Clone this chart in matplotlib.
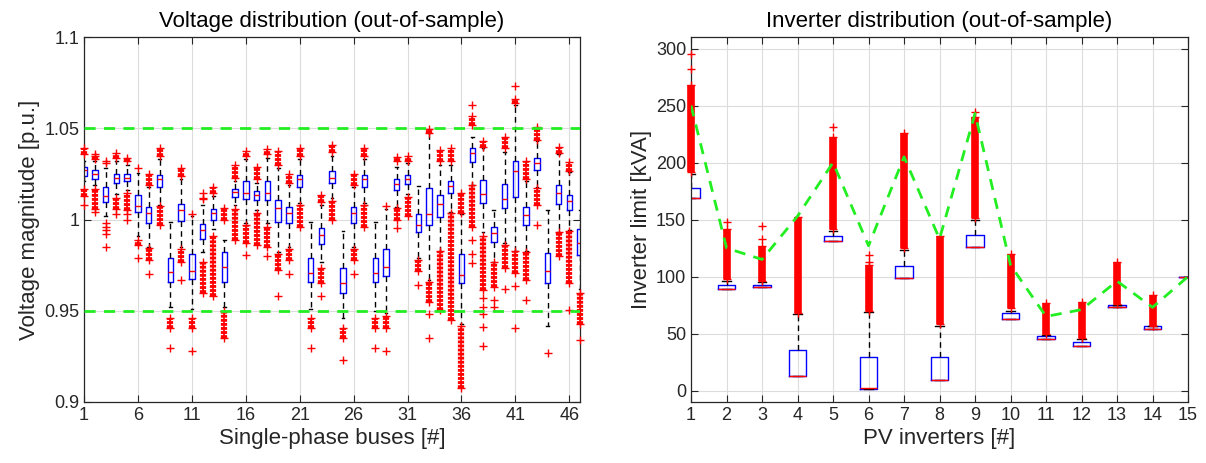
import matplotlib.pyplot as plt

plt.rcParams['font.family'] = ['Liberation Sans', 'DejaVu Sans']

# ---- left panel: voltage per single-phase bus (p.u.) ----
bus_ids = list(range(1, 48))
bus_q1 = [1.024, 1.0225, 1.0097, 1.020, 1.021, 1.0044, 0.998, 1.018, 0.966, 0.999,
          0.9674, 0.9894, 1.000, 0.9658, 1.0125, 1.011, 1.0106, 1.0106, 0.9985, 0.998,
          1.0178, 0.9658, 0.9864, 1.0198, 0.960, 0.998, 1.018, 0.9658, 0.9689, 1.016,
          1.0196, 0.9932, 0.9969, 1.0015, 1.0143, 0.9652, 1.0317, 1.009, 0.9877, 1.0064,
          1.0125, 0.9969, 1.0273, 0.9652, 1.0088, 1.0051, 0.9808]
bus_med = [1.027, 1.025, 1.0128, 1.023, 1.023, 1.0075, 1.0037, 1.022, 0.971, 1.005,
           0.972, 0.994, 1.0037, 0.9738, 1.015, 1.0148, 1.0134, 1.0147, 1.0064, 1.0037,
           1.022, 0.9707, 0.9918, 1.023, 0.965, 1.0037, 1.022, 0.9707, 0.974, 1.0196,
           1.0225, 0.9969, 1.003, 1.0088, 1.0183, 0.9698, 1.0366, 1.014, 0.9929, 1.0115,
           1.0266, 1.0024, 1.0308, 0.9716, 1.0147, 1.010, 0.987]
bus_q3 = [1.029, 1.027, 1.018, 1.025, 1.025, 1.0134, 1.007, 1.0245, 0.979, 1.0086,
          0.981, 0.9976, 1.0059, 0.982, 1.017, 1.0209, 1.0156, 1.021, 1.0106, 1.007,
          1.0245, 0.979, 0.9954, 1.0266, 0.9734, 1.007, 1.0245, 0.979, 0.9839, 1.0223,
          1.0245, 1.0031, 1.0174, 1.0134, 1.0214, 0.9813, 1.0394, 1.0216, 0.996, 1.0196,
          1.0322, 1.0068, 1.034, 0.9817, 1.0192, 1.0132, 0.9949]
bus_lo = [1.021, 1.019, 1.002, 1.014, 1.016, 0.991, 0.985, 1.008, 0.952, 0.985,
          0.951, 0.982, 0.995, 0.9518, 1.008, 0.998, 1.005, 0.998, 0.982, 0.985,
          1.009, 0.951, 0.977, 1.012, 0.946, 0.985, 1.009, 0.950, 0.9487, 1.007,
          1.014, 0.979, 0.967, 0.983, 1.004, 0.9425, 1.019, 0.993, 0.977, 0.987,
          0.983, 0.983, 1.018, 0.9414, 0.993, 0.994, 0.962]
bus_hi = [1.032, 1.032, 1.028, 1.032, 1.030, 1.0256, 1.018, 1.033, 0.9985, 1.022,
          1.002, 1.008, 1.013, 0.989, 1.021, 1.033, 1.020, 1.034, 1.028, 1.019,
          1.033, 0.9985, 1.008, 1.035, 0.9936, 1.018, 1.033, 0.9985, 1.006, 1.029,
          1.031, 1.0183, 1.0476, 1.030, 1.030, 1.003, 1.045, 1.039, 1.005, 1.037,
          1.063, 1.021, 1.043, 1.005, 1.036, 1.026, 1.005]
# single outliers
bus_fliers = [[1.008], [1.036, 1.004], [1.032, 1.031, 0.998, 0.996, 0.994, 0.992, 0.985],
              [1.003], [1.003, 1.0], [1.028, 0.979], [0.970], [], [0.9295], [0.967],
              [1.003, 0.928], [1.0147], [], [], [], [0.9808], [], [0.980], [0.958], [0.970],
              [], [0.9295], [0.958], [], [0.923], [0.970], [], [0.9295], [1.0073, 0.9277], [0.9954],
              [], [0.964], [0.948, 0.9353], [], [], [], [1.063, 0.989, 0.981, 0.976],
              [0.957, 0.952, 0.948, 0.941, 0.9308], [0.956, 0.9518], [0.962],
              [1.073, 0.9637, 0.9405], [0.956], [0.997], [0.9267], [], [0.9505], [0.934]]
# packed outlier clusters (low, high)
bus_clusters = [[(1.036, 1.039), (1.013, 1.017)], [(1.033, 1.035), (1.006, 1.017)], [],
                [(1.034, 1.0366), (1.006, 1.012)], [(1.032, 1.034), (1.0055, 1.0147)],
                [(0.986, 0.989)], [(1.019, 1.0247), (0.978, 0.9844)], [(1.035, 1.039), (0.997, 1.0077)],
                [(0.9405, 0.946)], [(1.024, 1.028), (0.977, 0.984)], [(0.9405, 0.946)],
                [(1.011, 1.012), (0.960, 0.977)], [(1.0147, 1.018), (0.958, 0.991)],
                [(1.0, 1.0064), (0.935, 0.9496)], [(1.023, 1.030), (0.989, 1.006)],
                [(1.035, 1.0375), (0.987, 0.997)], [(1.022, 1.029), (0.986, 1.0037)],
                [(1.0357, 1.0385), (0.985, 0.996)], [(1.03, 1.0375), (0.9725, 0.981)],
                [(1.02, 1.0247), (0.978, 0.984)], [(1.035, 1.039), (0.996, 1.008)],
                [(0.9405, 0.946)], [(1.0095, 1.0137), (0.965, 0.9734)], [(1.037, 1.041), (1.0, 1.01)],
                [(0.935, 0.9405)], [(1.0192, 1.0247), (0.978, 0.984)], [(1.035, 1.039), (0.996, 1.008)],
                [(0.9405, 0.946)], [(0.9405, 0.947)], [(1.032, 1.0344), (1.0, 1.0064)],
                [(1.032, 1.035), (1.002, 1.0125)], [(0.9716, 0.978)], [(1.0476, 1.0495), (0.955, 0.966)],
                [(1.032, 1.038), (0.9505, 0.9826)], [(1.032, 1.039), (0.945, 1.0037)],
                [(1.0037, 1.0147), (0.9075, 0.9414)], [(1.052, 1.057), (0.996, 1.019)],
                [(1.040, 1.043), (0.9615, 0.991)], [(0.963, 0.9766)], [(1.039, 1.045), (0.9734, 0.986)],
                [(1.064, 1.066), (0.9707, 0.9826)], [(1.022, 1.032), (0.967, 0.982)],
                [(1.0436, 1.051), (1.008, 1.0174)], [], [(1.0366, 1.040), (0.98, 0.993)],
                [(1.0266, 1.0315), (0.965, 0.9936)], [(0.943, 0.9597)]]
v_limits = [0.95, 1.05]

# ---- right panel: inverter limit per PV inverter (kVA) ----
inv_ids = list(range(1, 16))
inv_q1 = [168.5, 89, 90.6, 12.6, 131, 1.5, 98.5, 9.7, 125.9, 63.2, 45, 39.1, 73, 54.4, 100]
inv_med = [168.5, 89, 90.6, 12.6, 131, 2.5, 98.5, 9.7, 125.9, 63.2, 45, 39.1, 73, 54.4, 100]
inv_q3 = [178, 92.6, 93, 35.3, 136, 29.4, 109.7, 29.4, 136.8, 67.9, 47.9, 42.9, 75, 56.2, 100]
inv_lo = [168.5, 89, 90.6, 12.6, 131, 1.5, 98.5, 9.7, 125.9, 63.2, 45, 39.1, 73, 54.4, 100]
inv_hi = [190, 96, 95, 67, 140, 69, 123, 57, 150, 70, 49, 45, 75, 56.5, 100]
inv_fliers = [[282, 295], [148], [133, 144], [], [231], [113, 119], [], [], [244],
              [], [], [], [], [], []]
inv_clusters = [[(192, 268)], [(98, 142)], [(96, 127)], [(68, 152)], [(142, 222)],
                [(70, 110)], [(125, 226)], [(58, 136)], [(151, 240)], [(72, 120)],
                [(50, 77)], [(46, 78)], [(76, 113)], [(57, 84)], []]
inv_upper = [250, 125, 115, 153, 200, 127, 205, 133, 243, 110, 65, 71, 96, 73, 100]


def draw_boxes(ax, pos, q1, med, q3, lo, hi, fliers, clusters, cluster_lw, striped):
    stats = [dict(q1=a, med=m, q3=b, whislo=l, whishi=h, fliers=[])
             for a, m, b, l, h in zip(q1, med, q3, lo, hi)]
    ax.bxp(stats, positions=pos, widths=0.5, capwidths=0.25, patch_artist=False,
           boxprops=dict(color='blue', linewidth=1.0),
           medianprops=dict(color='red', linewidth=1.0),
           whiskerprops=dict(color='black', linewidth=1.0, linestyle=(0, (4, 3))),
           capprops=dict(color='black', linewidth=1.0))
    # outliers are not clipped at the axes edge (like MATLAB markers)
    for p, fl in zip(pos, fliers):
        if fl:
            ax.plot([p] * len(fl), fl, '+', color='red', markersize=6,
                    markeredgewidth=1.0, zorder=3, clip_on=False)
    for p, cl in zip(pos, clusters):
        for a, b in cl:
            if striped:
                ax.vlines(p, a, b, color='red', linewidth=cluster_lw,
                          linestyles=[(0, (0.45, 0.2))], zorder=3, clip_on=False)
                ax.vlines(p, a, b, color='red', linewidth=1.2, zorder=3, clip_on=False)
            else:
                ax.vlines(p, a, b, color='red', linewidth=cluster_lw, zorder=3, clip_on=False)
            ax.plot([p, p], [a, b], '+', color='red', markersize=6, zorder=3, clip_on=False)


def style(ax):
    ax.grid(True, color='#dcdcdc', linewidth=0.8)
    ax.set_axisbelow(True)
    ax.tick_params(direction='in', length=5, top=True, right=True, labelsize=13,
                   color='#262626', labelcolor='#262626')
    for s in ax.spines.values():
        s.set_color('#262626')
        s.set_linewidth(0.9)


fig = plt.figure(figsize=(12.06, 4.63), dpi=100)
ax1 = fig.add_axes([0.0697, 0.1318, 0.4113, 0.788])
ax2 = fig.add_axes([0.573, 0.1318, 0.4121, 0.788])

draw_boxes(ax1, bus_ids, bus_q1, bus_med, bus_q3, bus_lo, bus_hi,
           bus_fliers, bus_clusters, 4.5, True)
for v in v_limits:
    ax1.axhline(v, color='#22ee22', linewidth=2, linestyle=(0, (4, 3)), zorder=4)
ax1.set_xlim(1, 47)
ax1.set_ylim(0.9, 1.1)
ax1.set_xticks(list(range(1, 47, 5)))
ax1.set_xticklabels([str(t) for t in range(1, 47, 5)])
ax1.set_yticks([0.9, 0.95, 1.0, 1.05, 1.1])
ax1.set_yticklabels(['0.9', '0.95', '1', '1.05', '1.1'])
ax1.set_title('Voltage distribution (out-of-sample)', fontsize=16, color='black', pad=7)
ax1.set_xlabel('Single-phase buses [#]', fontsize=16, color='#262626', labelpad=3)
ax1.set_ylabel('Voltage magnitude [p.u.]', fontsize=16, color='#262626', labelpad=3)
style(ax1)

draw_boxes(ax2, inv_ids, inv_q1, inv_med, inv_q3, inv_lo, inv_hi,
           inv_fliers, inv_clusters, 5.5, False)
ax2.plot(inv_ids, inv_upper, color='#22ee22', linewidth=2,
         linestyle=(0, (4, 3)), zorder=5)
ax2.set_xlim(1, 15)
ax2.set_ylim(-10, 310)
ax2.set_xticks(inv_ids)
ax2.set_xticklabels([str(t) for t in inv_ids])
ax2.set_yticks([0, 50, 100, 150, 200, 250, 300])
ax2.set_title('Inverter distribution (out-of-sample)', fontsize=16, color='black', pad=7)
ax2.set_xlabel('PV inverters [#]', fontsize=16, color='#262626', labelpad=3)
ax2.set_ylabel('Inverter limit [kVA]', fontsize=16, color='#262626', labelpad=3)
style(ax2)

fig.savefig('out.png', dpi=100)
